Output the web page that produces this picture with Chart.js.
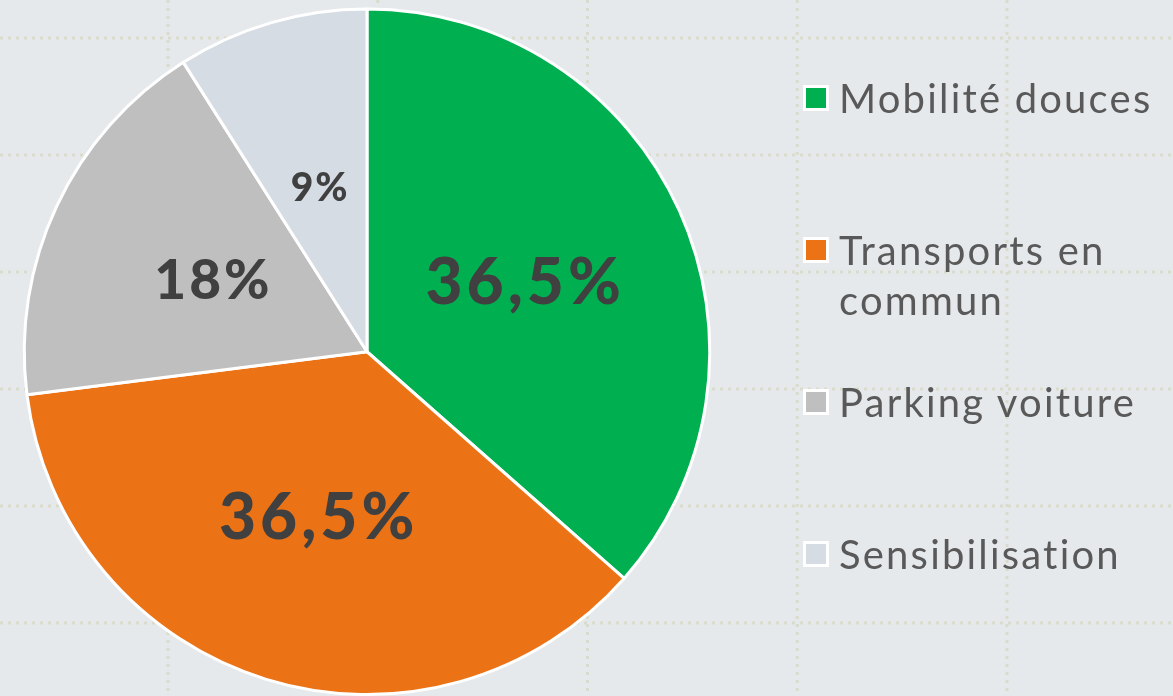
<!DOCTYPE html>
<html>
<head>
<meta charset="utf-8">
<script src="https://cdn.jsdelivr.net/npm/chart.js@4.4.1/dist/chart.umd.min.js"></script>
<style>
  html, body { margin: 0; padding: 0; background: #e6e9ec; overflow: hidden; }
  #wrap { position: relative; width: 1173px; height: 696px; }
  #c { position: absolute; left: 0; top: 0; }
  #legend { position: absolute; left: 803px; top: 73px; }
  .item { height: 152px; display: flex; align-items: flex-start; }
  .sw { width: 20px; height: 20px; border: 3px solid #ffffff; margin-top: 12px; margin-right: 10px; flex: none; }
  .txt { font-family: Lato, "Open Sans", sans-serif; font-weight: 400; font-size: 40px; letter-spacing: 2.2px; line-height: 50px; color: #595959; white-space: nowrap; }
</style>
</head>
<body>
<div id="wrap">
  <canvas id="c" width="1173" height="696"></canvas>
  <div id="legend"></div>
</div>
<script>
const categories = ['Mobilité douces', ['Transports en', 'commun'], 'Parking voiture', 'Sensibilisation'];
const values = [36.5, 36.5, 18, 9];
const valueLabels = ['36,5%', '36,5%', '18%', '9%'];
const colors = ['#00b050', '#ec7216', '#bfbfbf', '#d6dce4'];

const style = {
  labelSizes: [64, 64, 55, 39],
  labelSpacing: [4, 4, 3, 2],
  grid: { x0: 168, dx: 209.75, y0: 38, dy: 117, color: '#d9dbcc' }
};

const gridPlugin = {
  id: 'bgGrid',
  beforeDraw(chart) {
    const ctx = chart.ctx, g = style.grid;
    ctx.save();
    ctx.fillStyle = '#e6e9ec';
    ctx.fillRect(0, 0, chart.width, chart.height);
    ctx.strokeStyle = g.color;
    ctx.lineWidth = 3;
    ctx.setLineDash([3, 5]);
    for (let x = g.x0; x < chart.width; x += g.dx) {
      ctx.beginPath(); ctx.moveTo(x, 0); ctx.lineTo(x, chart.height); ctx.stroke();
    }
    for (let y = g.y0; y < chart.height; y += g.dy) {
      ctx.beginPath(); ctx.moveTo(0, y); ctx.lineTo(chart.width, y); ctx.stroke();
    }
    ctx.restore();
  }
};

const labelPlugin = {
  id: 'sliceLabels',
  afterDatasetsDraw(chart) {
    const ctx = chart.ctx;
    const meta = chart.getDatasetMeta(0);
    ctx.save();
    ctx.fillStyle = '#404040';
    ctx.textAlign = 'center';
    ctx.textBaseline = 'alphabetic';
    meta.data.forEach((arc, i) => {
      const p = arc.tooltipPosition();
      const size = style.labelSizes[i];
      const sp = style.labelSpacing[i];
      ctx.font = '900 ' + size + 'px Lato, "Open Sans", sans-serif';
      if ('letterSpacing' in ctx) ctx.letterSpacing = sp + 'px';
      ctx.fillText(valueLabels[i], p.x + sp / 2, p.y + size * 0.36);
    });
    ctx.restore();
  }
};

new Chart(document.getElementById('c'), {
  type: 'pie',
  data: {
    labels: categories,
    datasets: [{
      data: values,
      backgroundColor: colors,
      borderColor: '#ffffff',
      borderWidth: 3
    }]
  },
  options: {
    responsive: false,
    animation: false,
    layout: { padding: { left: 22.5, right: 461.5, top: 7.5, bottom: 0 } },
    plugins: { legend: { display: false }, tooltip: { enabled: false } }
  },
  plugins: [gridPlugin, labelPlugin]
});

const legend = document.getElementById('legend');
categories.forEach((cat, i) => {
  const item = document.createElement('div');
  item.className = 'item';
  const sw = document.createElement('div');
  sw.className = 'sw';
  sw.style.background = colors[i];
  const txt = document.createElement('div');
  txt.className = 'txt';
  txt.innerHTML = (Array.isArray(cat) ? cat : [cat]).join('<br>');
  item.appendChild(sw);
  item.appendChild(txt);
  legend.appendChild(item);
});
</script>
</body>
</html>
